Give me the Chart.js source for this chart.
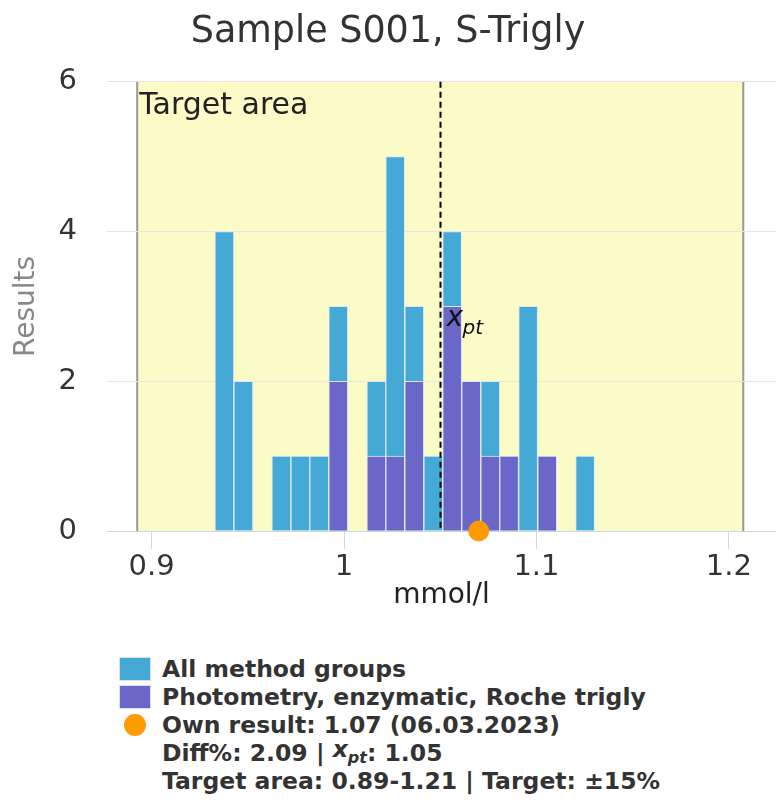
<!DOCTYPE html>
<html>
<head>
<meta charset="utf-8">
<script src="https://cdn.jsdelivr.net/npm/chart.js@4/dist/chart.umd.min.js"></script>
<style>
  body { margin: 0; background: #fff; font-family: "DejaVu Sans", sans-serif; }
  #wrap { position: relative; width: 776px; height: 810px; }
  #legend { position: absolute; left: 119px; top: 655px; color: #333; font-weight: bold; font-size: 23.5px; line-height: 28px; }
  #legend .row { display: flex; align-items: center; height: 28px; white-space: nowrap; }
  #legend .sw { width: 32px; height: 24px; margin-right: 11px; box-sizing: border-box; border: 1px solid #d8e0f0; }
  #legend .dot { width: 22px; height: 22px; border-radius: 50%; margin: 0 16px 0 5px; }
  #legend .txt { padding-left: 43px; }
</style>
</head>
<body>
<div id="wrap">
  <canvas id="histChart" width="776" height="640"></canvas>
  <div id="legend"></div>
</div>
<script>
// --- datos ---
const binCenters = [0.9378, 0.9477, 0.9575, 0.9674, 0.9773, 0.9871, 0.9970, 1.0069, 1.0168, 1.0266,
                    1.0365, 1.0464, 1.0562, 1.0661, 1.0760, 1.0858, 1.0957, 1.1056, 1.1154, 1.1253];
const allGroups = [4, 2, 0, 1, 1, 1, 3, 0, 2, 5, 3, 1, 4, 2, 2, 1, 3, 1, 0, 1];
const rocheTrigly = [0, 0, 0, 0, 0, 0, 2, 0, 1, 1, 2, 0, 3, 2, 1, 1, 0, 1, 0, 0];
const xTicks = [0.9, 1, 1.1, 1.2];
const yTicks = [0, 2, 4, 6];
const ownResult = 1.07;
const xpt = 1.05;
const targetLow = 0.8925;
const targetHigh = 1.2075;

const BLUE = '#44aad5';
const PURPLE = '#6a67c8';
const ORANGE = '#ff9a00';

// --- leyenda html ---
document.getElementById('legend').innerHTML =
  '<div class="row"><span class="sw" style="background:' + BLUE + '"></span>All method groups</div>' +
  '<div class="row"><span class="sw" style="background:' + PURPLE + '"></span>Photometry, enzymatic, Roche trigly</div>' +
  '<div class="row"><span class="dot" style="background:' + ORANGE + '"></span>Own result: 1.07 (06.03.2023)</div>' +
  '<div class="row txt">Diff%: 2.09 |&nbsp;<i>x<sub style="font-size:16px">pt</sub></i>: 1.05</div>' +
  '<div class="row txt">Target area: 0.89-1.21 | Target: ±15%</div>';

// zona objetivo, linea x_pt y etiquetas
const targetPlugin = {
  id: 'targetArea',
  beforeDraw(chart) {
    const {ctx, chartArea: a, scales: {x}} = chart;
    const l = x.getPixelForValue(targetLow), r = x.getPixelForValue(targetHigh);
    ctx.save();
    ctx.fillStyle = '#fbfbc8';
    ctx.fillRect(l, a.top, r - l, a.bottom - a.top);
    ctx.strokeStyle = '#999';
    ctx.lineWidth = 2;
    ctx.beginPath();
    ctx.moveTo(l, a.top); ctx.lineTo(l, a.bottom);
    ctx.moveTo(r, a.top); ctx.lineTo(r, a.bottom);
    ctx.stroke();
    ctx.fillStyle = '#222';
    ctx.font = '30px "DejaVu Sans"';
    ctx.textBaseline = 'alphabetic';
    ctx.fillText('Target area', l + 2, a.top + 32);
    ctx.restore();
  },
  afterDatasetsDraw(chart) {
    const {ctx, chartArea: a, scales: {x}} = chart;
    const px = Math.round(x.getPixelForValue(xpt)) + 0.5;
    ctx.save();
    ctx.strokeStyle = '#000';
    ctx.lineWidth = 2;
    ctx.setLineDash([6, 4]);
    ctx.beginPath();
    ctx.moveTo(px, a.top); ctx.lineTo(px, a.bottom);
    ctx.stroke();
    ctx.setLineDash([]);
    ctx.fillStyle = '#111';
    ctx.font = 'italic 28px "DejaVu Sans"';
    ctx.fillText('x', px + 6, 326);
    ctx.font = 'italic 20px "DejaVu Sans"';
    ctx.fillText('pt', px + 22, 334);
    ctx.restore();
  }
};

new Chart(document.getElementById('histChart'), {
  type: 'bar',
  data: {
    datasets: [
      {
        type: 'scatter',
        label: 'Own result',
        data: [{x: ownResult, y: 0}],
        backgroundColor: ORANGE,
        borderColor: ORANGE,
        pointRadius: 10,
        clip: false,
        order: 0
      },
      {
        label: 'Photometry, enzymatic, Roche trigly',
        data: binCenters.map((c, i) => ({x: c, y: rocheTrigly[i]})),
        backgroundColor: PURPLE,
        borderColor: '#dfe4f5',
        borderWidth: 1,
        grouped: false,
        barPercentage: 1,
        categoryPercentage: 1,
        order: 1
      },
      {
        label: 'All method groups',
        data: binCenters.map((c, i) => ({x: c, y: allGroups[i]})),
        backgroundColor: BLUE,
        borderColor: '#dfe4f5',
        borderWidth: 1,
        grouped: false,
        barPercentage: 1,
        categoryPercentage: 1,
        order: 2
      }
    ]
  },
  options: {
    responsive: false,
    animation: false,
    layout: { padding: 0, autoPadding: false },
    plugins: {
      legend: { display: false },
      tooltip: { enabled: false },
      title: {
        display: true,
        text: 'Sample S001, S-Trigly',
        color: '#333',
        font: { family: 'DejaVu Sans', size: 36.5, weight: 'normal' },
        padding: { top: 11, bottom: 27 }
      }
    },
    scales: {
      x: {
        type: 'linear',
        min: 0.8768,
        max: 1.2245,
        offset: false,
        afterFit(scale) {
          scale.height = 109;
          scale.paddingLeft = 0;
          scale.paddingRight = 0;
        },
        afterBuildTicks(scale) { scale.ticks = xTicks.map(v => ({value: v})); },
        grid: { drawOnChartArea: false, drawTicks: true, tickLength: 18, color: '#ccd6eb', offset: false },
        border: { display: true, color: '#ccd6eb', width: 1 },
        ticks: {
          color: '#333',
          font: { family: 'DejaVu Sans', size: 29 },
          padding: 1,
          maxRotation: 0,
          callback: v => String(v)
        },
        title: {
          display: true,
          text: 'mmol/l',
          color: '#222',
          font: { family: 'DejaVu Sans', size: 28 },
          padding: { top: 0, bottom: 27 }
        }
      },
      y: {
        min: 0,
        max: 6,
        afterFit(scale) {
          scale.width = 107;
          scale.paddingTop = 0;
          scale.paddingBottom = 0;
        },
        afterBuildTicks(scale) { scale.ticks = yTicks.map(v => ({value: v})); },
        grid: { color: '#e6e6e6', drawTicks: false },
        border: { display: false },
        ticks: {
          color: '#333',
          font: { family: 'DejaVu Sans', size: 29 },
          padding: 30
        },
        title: {
          display: true,
          text: 'Results',
          color: '#888',
          font: { family: 'DejaVu Sans', size: 28 },
          padding: { top: 10, bottom: 0 }
        }
      }
    }
  },
  plugins: [targetPlugin]
});
</script>
</body>
</html>
